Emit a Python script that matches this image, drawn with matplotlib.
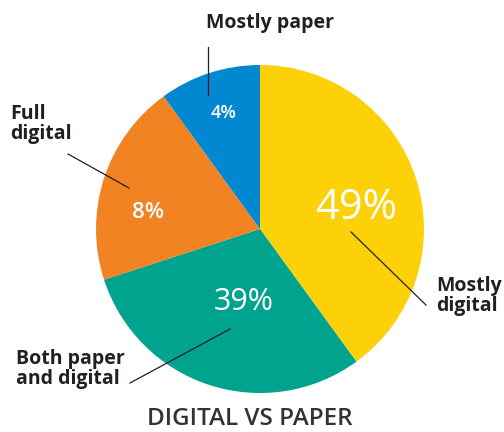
import matplotlib.pyplot as plt

# slice sizes as drawn (the printed percentages differ from the drawn angles)
categories = ["Mostly\ndigital", "Both paper\nand digital", "Full\ndigital", "Mostly paper"]
shares = [40, 30, 20, 10]
pct_labels = ["49%", "39%", "8%", "4%"]
colors = ["#FDD108", "#00A38D", "#F28322", "#0288D1"]

plt.rcParams['font.family'] = ['Open Sans', 'DejaVu Sans']

W, H = 504, 432
fig = plt.figure(figsize=(W / 100, H / 100), dpi=100)
ax = fig.add_axes([0, 0, 1, 1])

def py(y):
    # pixel row (from top) to data y
    return H - y

cx, cy, r = 260, 229, 164
ax.pie(shares, colors=colors, startangle=90, counterclock=False,
       center=(cx, py(cy)), radius=r, frame=True,
       wedgeprops=dict(linewidth=0))
ax.set_xlim(0, W)
ax.set_ylim(0, H)
ax.set_aspect('equal')
ax.axis('off')

# percentage labels inside slices
pct_pos = [(356, 208), (244, 302), (148, 212), (224, 113)]
pct_size = [30, 22, 16, 13]
pct_weight = ['normal', 'normal', 'semibold', 'semibold']
for t, (x, y), s, w in zip(pct_labels, pct_pos, pct_size, pct_weight):
    ax.text(x, py(y), t, color='white', fontsize=s, fontweight=w,
            ha='center', va='center')

# category labels
label_pos = [(436, 296, 'left'), (16, 369, 'left'), (10, 124, 'left'), (270, 23, 'center')]
for t, (x, y, ha) in zip(categories, label_pos):
    ax.text(x, py(y), t, color='#231F20', fontsize=14, fontweight='bold',
            ha=ha, va='center', linespacing=1.05)

# leader lines
leaders = [((351, 232), (426, 305)), ((230, 329), (130, 383)),
           ((129, 188), (68, 154)), ((208, 95), (208, 47))]
for (x0, y0), (x1, y1) in leaders:
    ax.plot([x0, x1], [py(y0), py(y1)], color='#231F20', lw=0.9)

ax.text(250, py(419), "DIGITAL VS PAPER", color='#333333', fontsize=17.5,
        fontweight='semibold', ha='center', va='center')

fig.savefig("out.png", dpi=100)
